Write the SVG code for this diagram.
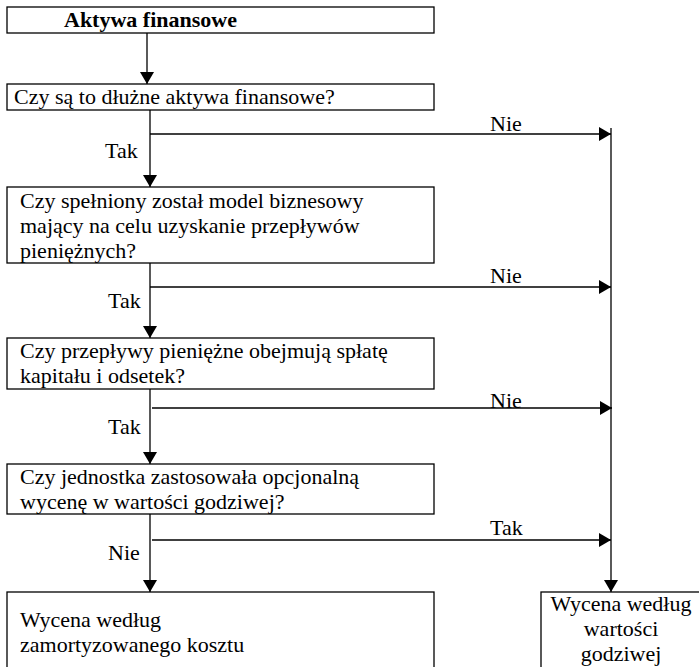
<svg xmlns="http://www.w3.org/2000/svg" width="699" height="667" viewBox="0 0 699 667">
<defs>
<style>
.box{fill:#fff;stroke:#000;stroke-width:1.3}
.t{font-family:"Liberation Serif","DejaVu Serif",serif;font-size:22px;fill:#000}
.b{font-weight:bold}
.ln{stroke:#000;stroke-width:1.3;fill:none}
</style>
<marker id="ahd" viewBox="0 0 12 14" refX="12" refY="7" markerWidth="12" markerHeight="14" markerUnits="userSpaceOnUse" orient="auto">
<path d="M0,0 L12,7 L0,14 z" fill="#000"/>
</marker>
</defs>
<rect width="699" height="667" fill="#fff"/>
<g id="n1"><rect class="box" x="7" y="7" width="427" height="26"/><text class="t b" x="64" y="27">Aktywa finansowe</text></g>
<g id="n2"><rect class="box" x="7" y="84" width="427" height="26"/><text class="t" x="14" y="104">Czy są to dłużne aktywa finansowe?</text></g>
<g id="n3"><rect class="box" x="7" y="187" width="427" height="76"/><text class="t" x="20" y="208">Czy spełniony został model biznesowy</text><text class="t" x="20" y="233">mający na celu uzyskanie przepływów</text><text class="t" x="20" y="258">pieniężnych?</text></g>
<g id="n4"><rect class="box" x="7" y="338" width="427" height="51"/><text class="t" x="20" y="358">Czy przepływy pieniężne obejmują spłatę</text><text class="t" x="20" y="383">kapitału i odsetek?</text></g>
<g id="n5"><rect class="box" x="7" y="464" width="427" height="50"/><text class="t" x="20" y="484">Czy jednostka zastosowała opcjonalną</text><text class="t" x="20" y="509">wycenę w wartości godziwej?</text></g>
<g id="n6"><rect class="box" x="7" y="592" width="427" height="80"/><text class="t" x="20" y="627">Wycena według</text><text class="t" x="20" y="652">zamortyzowanego kosztu</text></g>
<g id="n7"><rect class="box" x="541" y="592" width="170" height="80"/><text class="t" x="621" y="611" text-anchor="middle">Wycena według</text><text class="t" x="621" y="636" text-anchor="middle">wartości</text><text class="t" x="621" y="661" text-anchor="middle">godziwej</text></g>
<g id="connectors">
<line class="ln" x1="147" y1="33" x2="147" y2="84" marker-end="url(#ahd)"/>
<line class="ln" x1="150" y1="110" x2="150" y2="187" marker-end="url(#ahd)"/>
<line class="ln" x1="150" y1="263" x2="150" y2="338" marker-end="url(#ahd)"/>
<line class="ln" x1="150" y1="389" x2="150" y2="464" marker-end="url(#ahd)"/>
<line class="ln" x1="150" y1="514" x2="150" y2="592" marker-end="url(#ahd)"/>
<line class="ln" x1="611" y1="128" x2="611" y2="592" marker-end="url(#ahd)"/>
<line class="ln" x1="150" y1="134" x2="611" y2="134" marker-end="url(#ahd)"/>
<line class="ln" x1="150" y1="287" x2="611" y2="287" marker-end="url(#ahd)"/>
<line class="ln" x1="152" y1="408" x2="612" y2="408" marker-end="url(#ahd)"/>
<line class="ln" x1="152" y1="540" x2="611" y2="540" marker-end="url(#ahd)"/>
<text class="t" x="490" y="131">Nie</text>
<text class="t" x="105" y="158">Tak</text>
<text class="t" x="490" y="283">Nie</text>
<text class="t" x="108" y="308">Tak</text>
<text class="t" x="490" y="408">Nie</text>
<text class="t" x="108" y="434">Tak</text>
<text class="t" x="490" y="535">Tak</text>
<text class="t" x="108" y="560">Nie</text>
</g>
</svg>
